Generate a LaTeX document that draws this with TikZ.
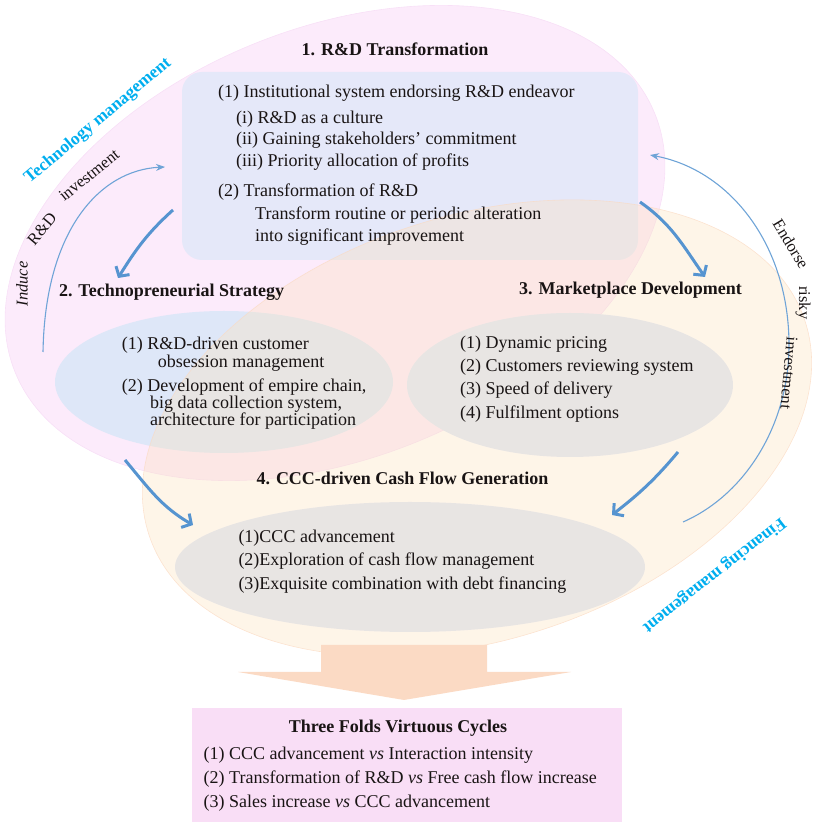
\documentclass[tikz,border=0pt]{standalone}
\usepackage{fontspec}
\setmainfont{Liberation Serif}
\usetikzlibrary{arrows.meta,shapes.geometric}
\definecolor{pinkbg}{RGB}{252,235,251}
\definecolor{pinkedge}{RGB}{248,224,247}
\definecolor{boxblue}{RGB}{229,232,249}
\definecolor{ellblue}{RGB}{222,231,248}
\definecolor{orangebg}{RGB}{252,226,190}
\definecolor{orangeedge}{RGB}{251,218,194}
\definecolor{arrblue}{RGB}{86,148,208}
\definecolor{cyanlbl}{RGB}{0,174,239}
\definecolor{peach}{RGB}{251,218,196}
\definecolor{cyclepink}{RGB}{249,222,246}
\definecolor{txtc}{RGB}{25,20,20}
\begin{document}
\begin{tikzpicture}[x=1pt,y=1pt,
  txt/.style={anchor=base west, inner sep=0pt, text=txtc, font=\fontsize{18}{21}\selectfont},
  ttl/.style={anchor=base, inner sep=0pt, text=txtc, font=\fontsize{18}{21}\selectfont\bfseries},
  lbl/.style={inner sep=0pt, text=txtc, font=\fontsize{16.5}{19}\selectfont},
  mgmt/.style={inner sep=0pt, text=cyanlbl, font=\fontsize{17.5}{20}\selectfont\bfseries},
  inell/.style={ellipse, fill=ellblue, inner sep=0pt},
  thickarr/.style={draw=arrblue, line width=3pt, -{Straight Barb[length=7pt,width=16pt]}},
  thinarc/.style={draw=arrblue!85, line width=1.1pt, -{Stealth[length=9pt,width=7pt]}}
]
\useasboundingbox (0,0) rectangle (812,825);
% big background ellipses and inner shapes
\fill[pinkbg, rotate around={22:(335,582)}] (335,582) ellipse [x radius=345, y radius=215];
\draw[pinkedge, line width=0.6pt, rotate around={22:(335,582)}] (335,582) ellipse [x radius=345, y radius=215];
\node[fill=boxblue, rounded corners=20pt, minimum width=456pt, minimum height=188pt, inner sep=0pt] (rdbox) at (410,659) {};
\node[inell, minimum width=338pt, minimum height=142pt] (tecell) at (224,443) {};
\node[inell, minimum width=326pt, minimum height=144pt] (mktell) at (570,440) {};
\node[inell, minimum width=470pt, minimum height=130pt] (cccell) at (410,258) {};
\fill[orangebg, fill opacity=0.35, rotate around={18:(477,397)}] (477,397) ellipse [x radius=345, y radius=212];
\draw[orangeedge, line width=0.6pt, draw opacity=0.7, rotate around={18:(477,397)}] (477,397) ellipse [x radius=345, y radius=212];
% block arrow and result box
\fill[peach] (321,180) -- (487,180) -- (487,153) -- (571,153) -- (404,125) -- (238,153) -- (321,153) -- cycle;
\node[fill=cyclepink, minimum width=430pt, minimum height=114pt, inner sep=0pt] (cycles) at (407,60) {};
% thick arrows
\coordinate (a1s) at (173,615); \coordinate (a1e) at (118,547);
\coordinate (a2s) at (640,623); \coordinate (a2e) at (705,548);
\coordinate (a3s) at (125,365); \coordinate (a3e) at (193,300);
\coordinate (a4s) at (678,373); \coordinate (a4e) at (612,310);
\draw[thickarr] (a1s) to[out=222, in=58] (a1e);
\draw[thickarr] (a2s) to[out=-35, in=125] (a2e);
\draw[thickarr] (a3s) to[out=-50, in=150] (a3e);
\draw[thickarr] (a4s) to[out=230, in=38] (a4e);
% thin arcs
\coordinate (la0) at (43,473); \coordinate (la1) at (165,658);
\draw[thinarc] (la0) .. controls (45,595) and (100,655) .. (la1);
\coordinate (ra0) at (683,303); \coordinate (ram) at (789,480); \coordinate (ra1) at (650,670);
\draw[thinarc] (ra0) .. controls (745,330) and (789,400) .. (ram) .. controls (789,580) and (730,655) .. (ra1);
% side labels
\node[mgmt, rotate=40] (techm) at (98,704) {Technology management};
\node[mgmt, rotate=218] (finm) at (714,250) {Financing management};
\node[lbl, rotate=90, font=\fontsize{16.5}{19}\selectfont\itshape] (induce) at (22,541) {Induce};
\node[lbl, rotate=50] (rdlbl) at (42,596) {R\&D};
\node[lbl, rotate=39] (inv1) at (89,650) {investment};
\node[lbl, rotate=-59] (endorse) at (791,581) {Endorse};
\node[lbl, rotate=-90] (risky) at (803,522) {risky};
\node[lbl, rotate=-95] (inv2) at (789,452) {investment};
% titles
\node[ttl] (t1) at (395,769) {1. R\&D Transformation};
\node[ttl] (t2) at (171.5,528) {2. Technopreneurial Strategy};
\node[ttl] (t3) at (630.5,530) {3. Marketplace Development};
\node[ttl] (t4) at (402.5,340) {4. CCC-driven Cash Flow Generation};
\node[ttl] (t5) at (398,92) {Three Folds Virtuous Cycles};
% R&D box text
\node[txt] (b1) at (218,727.7) {(1) Institutional system endorsing R\&D endeavor};
\node[txt] (b2) at (236,701.7) {(i) R\&D as a culture};
\node[txt] (b3) at (236,680) {(ii) Gaining stakeholders' commitment};
\node[txt] (b4) at (236,658.3) {(iii) Priority allocation of profits};
\node[txt] (b5) at (218,628.3) {(2) Transformation of R\&D};
\node[txt] (b6) at (255,605) {Transform routine or periodic alteration};
\node[txt] (b7) at (255,583.3) {into significant improvement};
% technopreneurial text
\node[txt] (s1) at (121.7,475.7) {(1) R\&D-driven customer};
\node[txt] (s2) at (157.7,457.7) {obsession management};
\node[txt] (s3) at (121.7,433.3) {(2) Development of empire chain,};
\node[txt] (s4) at (150,416) {big data collection system,};
\node[txt] (s5) at (150,399) {architecture for participation};
% marketplace text
\node[txt] (m1) at (460,476.7) {(1) Dynamic pricing};
\node[txt] (m2) at (460,453.3) {(2) Customers reviewing system};
\node[txt] (m3) at (460,430) {(3) Speed of delivery};
\node[txt] (m4) at (460,406.7) {(4) Fulfilment options};
% CCC text
\node[txt] (c1) at (238.3,282.7) {(1)CCC advancement};
\node[txt] (c2) at (238.3,259) {(2)Exploration of cash flow management};
\node[txt] (c3) at (238.3,235.7) {(3)Exquisite combination with debt financing};
% cycles text
\node[txt] (v1) at (203.5,65) {(1) CCC advancement \textit{vs} Interaction intensity};
\node[txt] (v2) at (203.5,41) {(2) Transformation of R\&D \textit{vs} Free cash flow increase};
\node[txt] (v3) at (203.5,17) {(3) Sales increase \textit{vs} CCC advancement};
\end{tikzpicture}
\end{document}
